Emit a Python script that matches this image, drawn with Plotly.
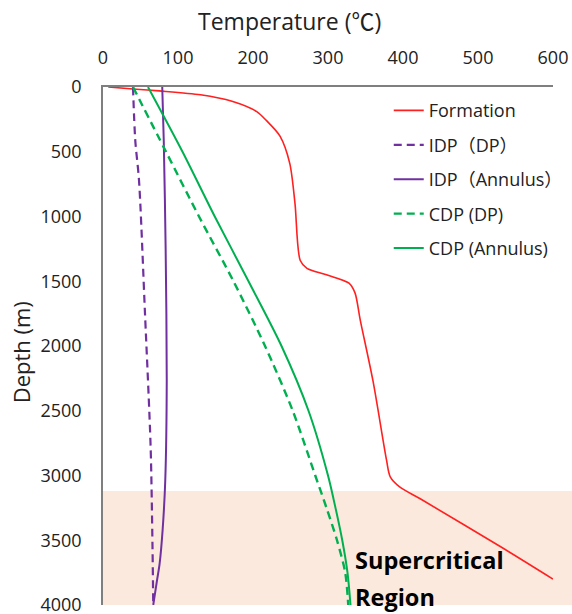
import plotly.graph_objects as go

# ---- data ----
formation_depth = [0, 15, 30, 60, 110, 190, 260, 380, 590, 900, 1340, 1400, 1450, 1515, 1590,
                   1800, 2270, 2880, 3010, 3090, 3180, 3560, 3800]
formation_temp = [7, 40, 75, 130, 172, 205, 218, 236, 249, 256, 263, 272, 298, 328, 336,
                  343, 360, 378, 383, 396, 423, 533, 600]

idp_dp_depth = [0, 410, 720, 1750, 2780, 3550, 4000]
idp_dp_temp = [40, 43, 48, 56, 63.5, 66, 67]

idp_ann_depth = [0, 410, 1240, 2260, 3040, 3420, 3680, 3810, 4000]
idp_ann_temp = [79, 81, 83.5, 85, 83, 79.5, 75.5, 72, 67]

cdp_dp_depth = [0, 500, 1000, 1500, 2000, 2500, 3000, 3250, 3500, 3750, 4000]
cdp_dp_temp = [40, 84, 128, 174, 216, 253, 283, 298, 312, 323, 327]

cdp_ann_depth = [0, 500, 1000, 1500, 2000, 2500, 3000, 3250, 3500, 3750, 4000]
cdp_ann_temp = [60, 106, 149, 194, 238, 274, 300, 310, 319, 326, 330]

supercritical_top = 3120
depth_max = 4000
x_ticks = [0, 100, 200, 300, 400, 500, 600]
y_ticks = [0, 500, 1000, 1500, 2000, 2500, 3000, 3500, 4000]

FONT = "Open Sans, Noto Sans CJK JP, sans-serif"
RED = "#FF2020"
PURPLE = "#7030A0"
GREEN = "#00B050"

fig = go.Figure()
series = [
    ("Formation", formation_temp, formation_depth, RED, "solid", 1.6),
    ("IDP（DP）", idp_dp_temp, idp_dp_depth, PURPLE, "8px,5px", 2.2),
    ("IDP（Annulus）", idp_ann_temp, idp_ann_depth, PURPLE, "solid", 2.0),
    ("CDP (DP)", cdp_dp_temp, cdp_dp_depth, GREEN, "8px,5px", 2.4),
    ("CDP (Annulus)", cdp_ann_temp, cdp_ann_depth, GREEN, "solid", 2.0),
]
for i, (name, t, d, c, dash, w) in enumerate(series):
    fig.add_trace(go.Scatter(x=t, y=d, mode="lines", name=name, legendgroup=str(i),
                             line=dict(color=c, dash=dash, width=w, shape="spline", smoothing=0.8)))

# supercritical band
fig.add_shape(type="rect", xref="paper", yref="paper", x0=0, x1=1.05,
              y0=0, y1=(depth_max - supercritical_top) / depth_max,
              fillcolor="rgb(251,233,221)", line_width=0, layer="below")

fig.add_annotation(x=333, y=3655, text="<b>Supercritical</b>", showarrow=False,
                   xanchor="left", yanchor="middle", font=dict(size=23.5, color="black", family=FONT))
fig.add_annotation(x=333, y=3940, text="<b>Region</b>", showarrow=False,
                   xanchor="left", yanchor="middle", font=dict(size=23.5, color="black", family=FONT))

# axis titles
fig.add_annotation(xref="paper", yref="paper", x=0.414, y=1.128, text="Temperature (℃)",
                   showarrow=False, xanchor="center", yanchor="middle",
                   font=dict(size=23, family=FONT, color="#222"))
fig.add_annotation(xref="paper", yref="paper", x=-0.182, y=0.488, text="Depth (m)",
                   showarrow=False, xanchor="center", yanchor="middle", textangle=-90,
                   font=dict(size=22, family=FONT, color="#222"))

fig.update_layout(
    width=572, height=614,
    margin=dict(l=103, r=19, t=87, b=9, autoexpand=False),
    paper_bgcolor="white", plot_bgcolor="white",
    font=dict(family=FONT, size=18, color="#222"),
    legend=dict(x=0.635, y=0.99, xanchor="left", yanchor="top",
                font=dict(size=18, family=FONT, color="#222"),
                bgcolor="rgba(0,0,0,0)", traceorder="grouped", tracegroupgap=8,
                itemwidth=30),
    xaxis=dict(side="top", range=[0, 600], tickvals=x_ticks, showgrid=False, zeroline=False,
               showline=True, linecolor="#7f7f7f", linewidth=1.5, ticks="",
               ticklabelstandoff=14, automargin=False, ticklabeloverflow="allow"),
    yaxis=dict(range=[4000, 0], tickvals=y_ticks, showgrid=False, zeroline=False,
               showline=True, linecolor="#7f7f7f", linewidth=1.5, ticks="",
               ticklabelstandoff=16, automargin=False, ticklabeloverflow="allow"),
)

fig.write_html("out.html")
